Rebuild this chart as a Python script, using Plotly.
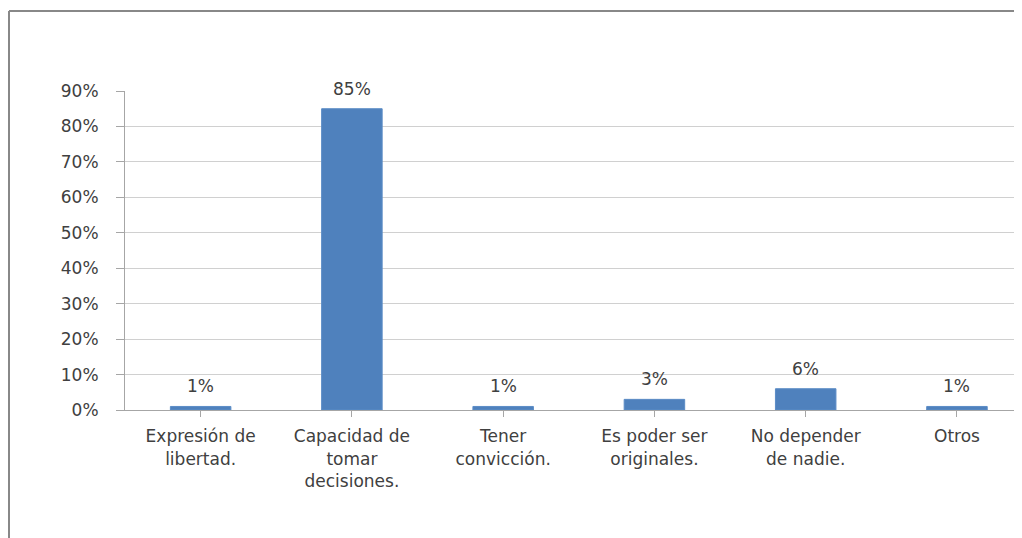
import plotly.graph_objects as go

categories = ["Expresión de<br>libertad.", "Capacidad de<br>tomar<br>decisiones.", "Tener<br>convicción.",
              "Es poder ser<br>originales.", "No depender<br>de nadie.", "Otros"]
values = [0.01, 0.85, 0.01, 0.03, 0.06, 0.01]
value_labels = ["1%", "85%", "1%", "3%", "6%", "1%"]
y_ticks = [0, 0.1, 0.2, 0.3, 0.4, 0.5, 0.6, 0.7, 0.8, 0.9]
y_tick_labels = ["0%", "10%", "20%", "30%", "40%", "50%", "60%", "70%", "80%", "90%"]

FONT = "DejaVu Sans"
TXT = "#404040"
FS = 17

# page body has an 8px margin; figure coordinates are screen coordinates minus 8
OFF = 8
W, H = 1022 - OFF, 538 - OFF
L, R, T = 125 - OFF, 0, 91 - OFF
B = H - (410 - OFF)
pw, ph = W - L - R, H - T - B

fig = go.Figure()
fig.add_trace(go.Bar(
    x=list(range(len(categories))), y=values, width=0.4,
    marker=dict(color="#4f81bd", line=dict(color="#5b8cc6", width=1)),
    hoverinfo="skip",
))

for i, (v, t) in enumerate(zip(values, value_labels)):
    fig.add_annotation(x=i, y=v, text=t, showarrow=False, yanchor="bottom", yshift=8,
                       font=dict(family=FONT, size=FS, color=TXT))


def px(x):
    return (x - OFF - L) / pw


def py(y):
    return (H - B - (y - OFF)) / ph


fig.add_shape(type="line", xref="paper", yref="paper", x0=px(9), x1=px(9), y0=py(11), y1=py(545),
              line=dict(color="#888888", width=2))
fig.add_shape(type="line", xref="paper", yref="paper", x0=px(9), x1=px(1030), y0=py(11), y1=py(11),
              line=dict(color="#888888", width=2))

fig.update_layout(
    width=W, height=H,
    margin=dict(l=L, r=R, t=T, b=B),
    paper_bgcolor="white", plot_bgcolor="white",
    showlegend=False,
    font=dict(family=FONT, size=FS, color=TXT),
    xaxis=dict(
        tickmode="array", tickvals=list(range(len(categories))), ticktext=categories,
        range=[-0.5, 5.43], showgrid=False, showline=True, linecolor="#a6a6a6", linewidth=1,
        ticks="outside", ticklen=6, tickcolor="#a6a6a6", tickson="boundaries",
        tickfont=dict(family=FONT, size=FS, color=TXT), ticklabelstandoff=5, zeroline=False,
    ),
    yaxis=dict(
        range=[0, 0.9], tickmode="array", tickvals=y_ticks, ticktext=y_tick_labels,
        showgrid=True, gridcolor="#d0d0d0", gridwidth=1, showline=True, linecolor="#a6a6a6",
        ticks="outside", ticklen=8, tickcolor="#a6a6a6", zeroline=False,
        tickfont=dict(family=FONT, size=FS, color=TXT), ticklabelstandoff=14,
    ),
)

fig.write_html("out.html")
